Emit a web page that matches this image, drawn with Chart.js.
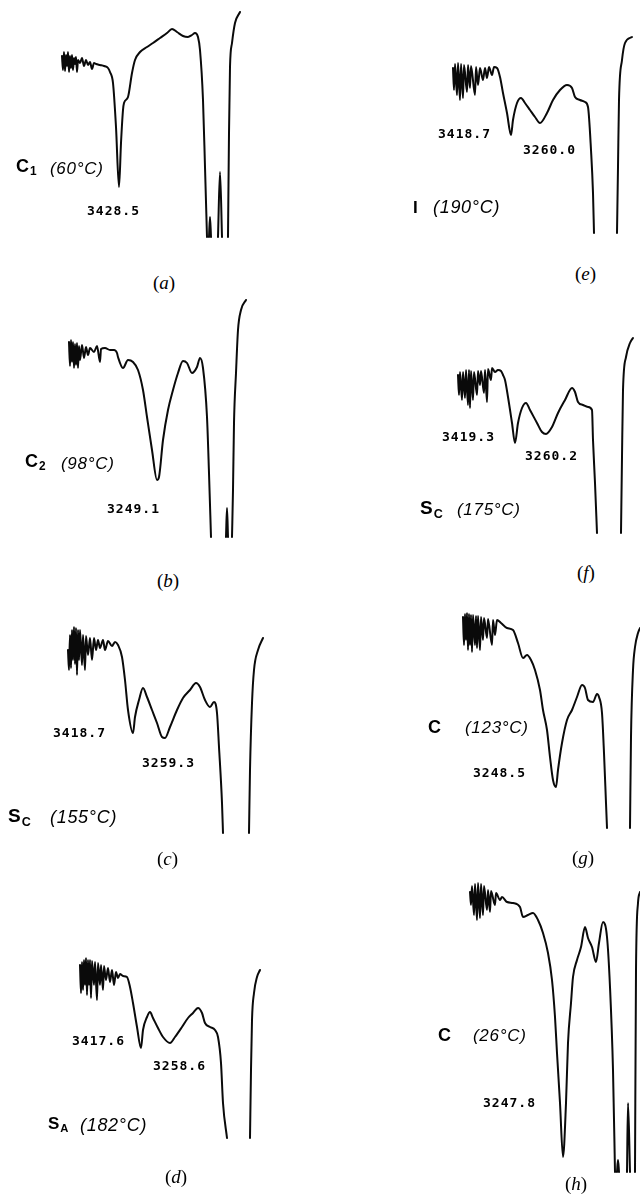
<!DOCTYPE html>
<html>
<head>
<meta charset="utf-8">
<script src="https://cdn.jsdelivr.net/npm/chart.js@4.4.1/dist/chart.umd.min.js"></script>
<style>
    html, body { margin: 0; padding: 0; background: #fff; }
    #fig { position: relative; width: 640px; height: 1194px; overflow: hidden; }
    #fig canvas { position: absolute; }
    .lbl { position: absolute; white-space: nowrap; line-height: 1; transform: translateY(-50%); color: #000; }
    .phase { font-family: "Liberation Sans", Arial, sans-serif; font-weight: bold; }
    .phase sub { font-size: 0.66em; vertical-align: -0.28em; margin-left: 1px; }
    .temp { font-family: "Liberation Sans", Arial, sans-serif; font-style: italic; letter-spacing: 0.7px; }
    .peak { font-family: "DejaVu Sans Mono", monospace; font-size: 13px; letter-spacing: 1px; font-weight: bold; }
    .tag { font-family: "Liberation Serif", "Times New Roman", serif; font-size: 19px; }
</style>
</head>
<body>
<div id="fig"></div>
<script>
// IR spectra: [wavenumber (cm-1), transmittance (%)]
// null = trace runs off the bottom of the chart paper (line is broken there)
const specA = [[3715,72.4],[3710,66.8],[3705,74.0],[3700,66.4],[3695,72.8],[3690,68.4],[3685,74.0],[3680,66.0],[3675,72.4],[3670,67.6],
    [3665,72.8],[3660,66.8],[3655,71.6],[3650,69.2],[3645,72.0],[3640,66.0],[3635,70.8],[3625,69.6],[3615,71.6],[3605,68.4],
    [3595,70.8],[3585,68.8],[3575,70.0],[3565,67.2],[3555,69.6],[3545,69.2],[3525,68.8],[3505,68.4],[3485,67.6],[3475,66.0],
    [3460,61.6],[3445,44.0],[3430,20.0],[3420,37.6],[3410,50.8],[3405,53.6],[3385,56.0],[3365,65.6],[3350,70.8],[3325,74.0],
    [3290,76.0],[3260,77.6],[3225,79.6],[3190,81.6],[3165,83.2],[3140,82.0],[3110,80.4],[3085,80.0],[3065,80.8],[3050,81.6],
    [3035,80.0],[3025,74.8],[3010,54.8],[3000,28.0],[2990,0],[2985,null],[2980,0],[2975,8.0],[2970,0],[2960,null],
    [2935,0],[2925,26.0],[2915,0],[2900,null],[2885,0],[2880,41.6],[2875,68.0],[2865,77.6],[2850,85.6],[2825,90.0]];

const specB = [[3690,78.0],[3685,68.4],[3680,78.8],[3675,70.0],[3670,78.0],[3665,67.6],[3660,77.2],[3655,68.8],[3650,77.6],[3645,67.6],
    [3640,76.4],[3635,70.8],[3625,76.8],[3615,71.6],[3605,76.0],[3595,72.8],[3585,75.6],[3565,74.0],[3550,76.4],[3535,70.0],
    [3530,75.2],[3510,75.6],[3485,74.8],[3465,74.8],[3450,73.6],[3445,72.0],[3420,67.6],[3395,70.8],[3370,70.0],[3345,66.8],
    [3320,58.8],[3300,48.0],[3275,34.8],[3250,22.8],[3240,24.0],[3220,38.8],[3195,50.8],[3170,58.8],[3145,65.6],[3120,70.4],
    [3100,69.6],[3075,65.6],[3050,68.0],[3035,71.6],[3020,67.6],[3000,48.0],[2990,25.6],[2980,0],[2970,null],[2905,0],
    [2900,11.6],[2895,0],[2885,null],[2875,0],[2870,18.8],[2865,45.6],[2855,65.6],[2845,82.8],[2830,90.8],[2805,94.8]];

const specC = [[3745,73.2],[3740,65.2],[3735,79.2],[3730,66.0],[3725,81.2],[3720,69.2],[3715,82.4],[3710,67.6],[3705,82.0],[3700,63.2],
    [3695,81.2],[3690,69.2],[3685,81.2],[3675,67.2],[3670,79.2],[3660,65.2],[3655,78.8],[3645,71.2],[3635,78.0],[3625,69.2],
    [3615,78.0],[3605,73.2],[3595,77.2],[3585,74.0],[3570,77.2],[3560,73.2],[3545,76.8],[3525,74.8],[3510,76.4],[3495,75.2],
    [3475,70.4],[3460,61.2],[3445,49.2],[3420,40.0],[3410,46.4],[3390,53.2],[3370,58.0],[3350,54.4],[3325,49.2],[3300,44.0],
    [3275,38.4],[3260,38.0],[3235,42.4],[3200,49.2],[3170,54.0],[3135,57.2],[3105,60.0],[3085,58.4],[3060,53.2],[3035,50.4],
    [3015,52.4],[3000,48.0],[2990,34.4],[2975,12.0],[2970,0],[2960,null],[2840,0],[2835,25.2],[2825,52.0],[2815,65.2],
    [2795,73.2],[2770,78.0]];

const specD = [[3715,69.2],[3710,58.0],[3705,70.4],[3700,59.2],[3695,71.2],[3690,61.2],[3685,72.0],[3680,57.2],[3675,71.2],[3670,61.2],
    [3665,71.2],[3660,56.0],[3655,70.8],[3645,61.2],[3640,70.4],[3630,55.2],[3625,70.0],[3615,61.2],[3610,69.2],[3600,59.2],
    [3595,68.8],[3585,63.2],[3575,68.0],[3565,62.4],[3555,67.2],[3545,61.2],[3535,66.4],[3525,64.0],[3515,65.6],[3500,64.8],
    [3480,64.4],[3465,60.4],[3450,54.0],[3430,44.4],[3410,36.0],[3400,43.2],[3380,48.4],[3365,50.4],[3350,48.0],[3325,44.0],
    [3300,40.4],[3265,38.0],[3240,40.4],[3205,44.4],[3175,48.0],[3150,50.0],[3125,52.0],[3105,50.0],[3090,46.0],[3065,44.4],
    [3040,43.2],[3025,40.4],[3010,30.0],[3000,14.0],[2980,0],[2970,null],[2865,0],[2860,27.2],[2855,47.2],[2845,58.0],
    [2830,64.4],[2815,67.2]];

const specE = [[3700,66.0],[3695,57.2],[3690,67.6],[3680,55.2],[3675,68.0],[3665,53.2],[3660,67.6],[3650,54.0],[3645,67.2],[3630,56.4],
    [3625,67.2],[3615,58.0],[3610,66.8],[3590,55.2],[3585,66.4],[3575,59.2],[3565,66.0],[3550,61.2],[3540,66.0],[3530,62.0],
    [3520,66.4],[3505,63.2],[3495,66.4],[3480,66.0],[3465,62.4],[3450,56.0],[3430,48.0],[3410,39.2],[3400,45.2],[3380,52.0],
    [3360,54.0],[3340,52.0],[3315,49.2],[3290,46.4],[3265,44.0],[3230,48.0],[3200,53.2],[3165,57.2],[3130,59.2],[3105,58.0],
    [3090,54.4],[3065,53.2],[3040,52.4],[3025,50.4],[3010,33.2],[3000,16.0],[2995,0],[2980,null],[2880,0],[2875,26.4],
    [2870,53.2],[2855,69.2],[2840,76.0],[2805,78.4]];

const specF = [[3700,63.2],[3695,55.2],[3690,64.4],[3680,53.2],[3675,64.4],[3665,54.0],[3660,65.2],[3650,51.2],[3645,65.2],[3640,50.0],
    [3635,64.8],[3625,53.2],[3620,64.4],[3605,55.2],[3600,64.8],[3590,59.2],[3585,64.8],[3570,56.0],[3565,65.2],[3555,52.4],
    [3550,65.6],[3535,61.2],[3530,66.0],[3515,64.4],[3500,65.2],[3485,64.8],[3475,63.2],[3465,61.2],[3450,54.4],[3430,44.0],
    [3415,36.0],[3400,44.0],[3380,50.0],[3360,52.0],[3340,49.2],[3305,44.0],[3280,40.4],[3260,39.6],[3230,42.4],[3200,48.0],
    [3165,53.2],[3130,58.0],[3115,56.4],[3100,52.4],[3075,51.2],[3050,50.4],[3030,49.2],[3025,37.2],[3015,20.0],[3005,0],
    [2990,null],[2885,0],[2880,30.4],[2875,57.2],[2860,70.4],[2840,76.0],[2825,78.0]];

const specG = [[3715,84.4],[3710,73.2],[3705,85.6],[3700,75.2],[3695,86.0],[3690,71.2],[3685,85.6],[3680,73.2],[3675,85.2],[3670,70.4],
    [3665,85.2],[3655,73.2],[3650,84.8],[3645,72.0],[3640,84.8],[3630,71.2],[3625,84.4],[3615,75.2],[3610,84.0],[3595,76.0],
    [3590,83.6],[3570,73.2],[3565,83.2],[3555,77.2],[3545,83.2],[3525,82.0],[3495,80.0],[3465,79.2],[3440,74.0],[3415,68.0],
    [3395,69.2],[3375,67.2],[3355,63.2],[3330,55.2],[3315,47.2],[3295,39.2],[3280,28.4],[3265,19.2],[3250,16.4],[3240,23.2],
    [3220,34.0],[3195,43.2],[3170,47.2],[3145,52.4],[3120,57.2],[3105,56.0],[3090,51.2],[3065,50.4],[3045,53.6],[3035,52.4],
    [3020,46.0],[3010,30.0],[3000,10.0],[2995,0],[2980,null],[2880,0],[2875,36.4],[2865,63.2],[2855,72.4],[2840,78.0],
    [2830,80.0]];

const specH = [[3715,112.0],[3710,106.8],[3705,114.4],[3695,102.8],[3690,115.2],[3680,100.8],[3675,115.6],[3665,101.6],[3660,115.2],[3650,102.8],
    [3645,114.4],[3630,104.8],[3625,112.8],[3615,104.0],[3610,112.4],[3590,106.8],[3585,111.6],[3565,108.8],[3555,110.0],[3530,108.0],
    [3500,107.6],[3465,106.0],[3450,102.0],[3425,102.8],[3400,103.6],[3375,100.8],[3350,95.6],[3325,87.6],[3305,76.8],[3290,62.0],
    [3280,47.6],[3265,27.6],[3250,6.0],[3235,27.6],[3225,51.6],[3210,67.6],[3200,78.0],[3180,84.8],[3160,90.0],[3140,98.0],
    [3125,93.6],[3105,90.0],[3085,84.0],[3070,91.6],[3050,100.0],[3030,94.0],[3015,74.0],[3000,40.8],[2990,0],[2985,null],
    [2980,0],[2975,4.8],[2970,0],[2960,null],[2930,0],[2925,27.6],[2915,0],[2905,null],[2890,0],[2885,80.8],
    [2875,107.6],[2865,112.0]];

// Texts
const panelTags = ['a', 'b', 'c', 'd', 'e', 'f', 'g', 'h'];
const phaseMain = ['C', 'C', 'S', 'S', 'I', 'S', 'C', 'C'];
const phaseSub = ['1', '2', 'C', 'A', '', 'C', '', ''];
const temps = ['(60°C)', '(98°C)', '(155°C)', '(182°C)', '(190°C)', '(175°C)', '(123°C)', '(26°C)'];
const peakLabels = [
    ['3428.5'], ['3249.1'], ['3418.7', '3259.3'], ['3417.6', '3258.6'],
    ['3418.7', '3260.0'], ['3419.3', '3260.2'], ['3248.5'], ['3247.8']
];

// Page placement of each panel (wnLeft = wavenumber at the column's left edge, base = y of 0 %T)
const layout = [
    { spec: specA, col: 0, wnLeft: 4025, base: 237,  phase: [16, 168, 18],   temp: [50, 168, 17],   peaks: [[87, 210]],              tag: [153, 282] },
    { spec: specB, col: 0, wnLeft: 4035, base: 537,  phase: [25, 463, 18],   temp: [61, 463, 17],   peaks: [[107, 508]],             tag: [157, 580] },
    { spec: specC, col: 0, wnLeft: 4085, base: 833,  phase: [8, 817, 19],    temp: [50, 817, 18],   peaks: [[53, 732], [142, 762]],  tag: [157, 858] },
    { spec: specD, col: 0, wnLeft: 4115, base: 1138, phase: [48, 1125, 17],  temp: [80, 1125, 18],  peaks: [[72, 1040], [153, 1065]], tag: [165, 1176] },
    { spec: specE, col: 1, wnLeft: 4365, base: 233,  phase: [413, 207, 17],  temp: [433, 207, 18],  peaks: [[438, 133], [523, 149]], tag: [575, 273] },
    { spec: specF, col: 1, wnLeft: 4390, base: 533,  phase: [420, 509, 19],  temp: [457, 509, 17],  peaks: [[442, 436], [525, 455]], tag: [577, 572] },
    { spec: specG, col: 1, wnLeft: 4430, base: 828,  phase: [428, 727, 18],  temp: [465, 727, 17],  peaks: [[473, 772]],             tag: [572, 857] },
    { spec: specH, col: 1, wnLeft: 4465, base: 1172, phase: [438, 1035, 18], temp: [473, 1035, 17], peaks: [[483, 1102]],            tag: [565, 1183] }
];

const fig = document.getElementById('fig');

function addLabel(cls, html, x, y, size) {
    const el = document.createElement('div');
    el.className = 'lbl ' + cls;
    el.innerHTML = html;
    el.style.left = x + 'px';
    el.style.top = y + 'px';
    if (size) el.style.fontSize = size + 'px';
    fig.appendChild(el);
}

function drawPanel(p, i) {
    const canvas = document.createElement('canvas');
    canvas.width = 320;
    canvas.height = 310;
    canvas.style.left = (p.col * 320) + 'px';
    canvas.style.top = (p.base - 300) + 'px';
    fig.appendChild(canvas);

    new Chart(canvas, {
        type: 'line',
        data: {
            datasets: [{
                data: p.spec.map(d => ({ x: d[0], y: d[1] })),
                borderColor: '#0a0a0a',
                borderWidth: 2,
                borderJoinStyle: 'round',
                borderCapStyle: 'round',
                cubicInterpolationMode: 'monotone',
                pointRadius: 0,
                spanGaps: false,
                fill: false
            }]
        },
        options: {
            responsive: false,
            animation: false,
            devicePixelRatio: 1,
            layout: { padding: 0 },
            plugins: { legend: { display: false }, tooltip: { enabled: false } },
            scales: {
                x: { type: 'linear', reverse: true, min: p.wnLeft - 1600, max: p.wnLeft, display: false },
                y: { min: -4, max: 120, display: false }
            }
        }
    });

    // labels
    const sub = phaseSub[i] ? '<sub>' + phaseSub[i] + '</sub>' : '';
    addLabel('phase', phaseMain[i] + sub, p.phase[0], p.phase[1], p.phase[2]);
    addLabel('temp', temps[i], p.temp[0], p.temp[1], p.temp[2]);
    p.peaks.forEach((pos, k) => addLabel('peak', peakLabels[i][k], pos[0], pos[1]));
    addLabel('tag', '(<i>' + panelTags[i] + '</i>)', p.tag[0], p.tag[1]);
}

layout.forEach(drawPanel);
</script>
</body>
</html>
